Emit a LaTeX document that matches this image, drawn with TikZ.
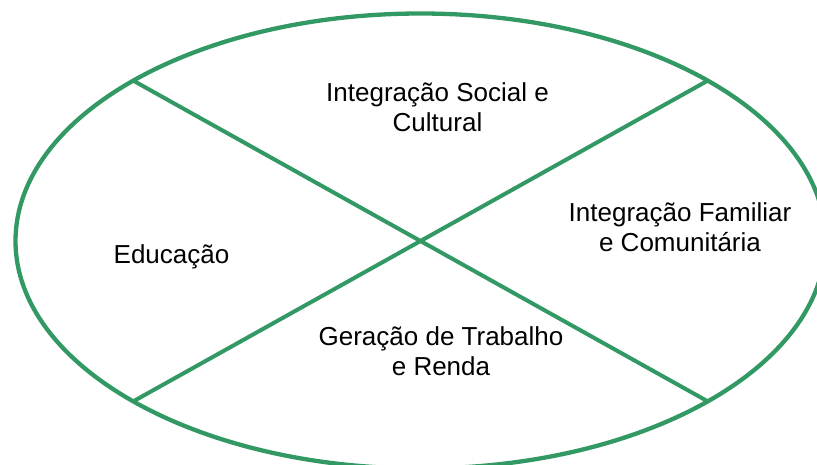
\documentclass[tikz,border=0pt]{standalone}
\usepackage{fontspec}
\setmainfont{Liberation Sans}
\definecolor{ringgreen}{RGB}{50,153,100}
\begin{document}
\begin{tikzpicture}[x=1pt,y=-1pt,
  ring/.style={draw=ringgreen,line width=4.3pt},
  divider/.style={draw=ringgreen,line width=4pt},
  lbl/.style={align=center,font=\fontsize{26}{30}\selectfont,inner sep=0pt,anchor=base}]
\useasboundingbox (0,0) rectangle (817,464);
\draw[ring] (420.5,241) ellipse [x radius=405, y radius=227.5];
\coordinate (tl) at (133,80.5);
\coordinate (tr) at (708,80.5);
\coordinate (bl) at (133,401.5);
\coordinate (br) at (708,401.5);
\draw[divider] (tl) -- (br);
\draw[divider] (tr) -- (bl);
\node[lbl] (soc) at (437.5,131.5) {Integração Social e\\Cultural};
\node[lbl] (edu) at (171.5,263) {Educação};
\node[lbl] (fam) at (680,251.7) {Integração Familiar\\e Comunitária};
\node[lbl] (ger) at (441,375) {Geração de Trabalho\\e Renda};
\end{tikzpicture}
\end{document}
